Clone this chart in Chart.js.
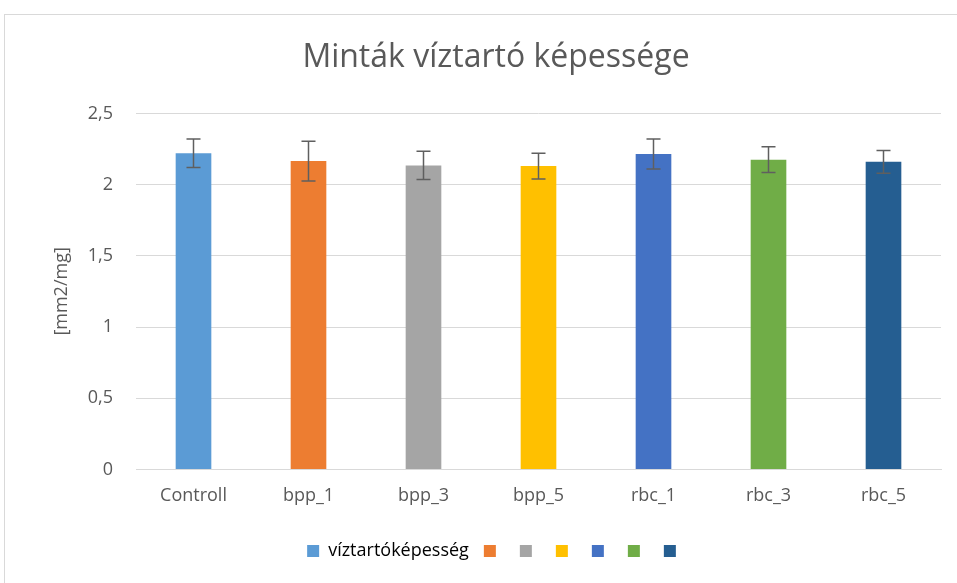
<!DOCTYPE html>
<html>
<head>
<meta charset="utf-8">
<script src="https://cdn.jsdelivr.net/npm/chart.js@4"></script>
<style>
  html, body { margin: 0; padding: 0; background: #fff; overflow: hidden; }
  #frame {
    position: absolute; left: 4px; top: 14px;
    width: 972px; height: 580px;
    border: 1px solid #d9d9d9;
    box-sizing: border-box;
  }
  #chart { display: block; }
</style>
</head>
<body>
<div id="frame"><canvas id="chart" width="970" height="578"></canvas></div>
<script>
// chart data
const labels = ["Controll", "bpp_1", "bpp_3", "bpp_5", "rbc_1", "rbc_3", "rbc_5"];
const values = [2.22, 2.165, 2.135, 2.13, 2.215, 2.175, 2.16];
const errors = [0.1, 0.14, 0.1, 0.09, 0.105, 0.09, 0.08];
const barColors = ["#5B9BD5", "#ED7D31", "#A5A5A5", "#FFC000", "#4472C4", "#70AD47", "#255E91"];
const seriesName = "víztartóképesség";

const textColor = "#595959";
const fontName = "'Open Sans', Lato, sans-serif";

// draw the error bars on top of the bars
const errorBars = {
	id: "errorBars",
	afterDatasetsDraw(chart) {
		const ctx = chart.ctx;
		const yScale = chart.scales.y;
		const meta = chart.getDatasetMeta(0);
		ctx.save();
		ctx.strokeStyle = "#5f5f5f";
		ctx.lineWidth = 1.5;
		meta.data.forEach((bar, i) => {
			const top = yScale.getPixelForValue(values[i] + errors[i]);
			const bottom = yScale.getPixelForValue(values[i] - errors[i]);
			const cap = 7;
			ctx.beginPath();
			ctx.moveTo(bar.x, top);
			ctx.lineTo(bar.x, bottom);
			ctx.moveTo(bar.x - cap, top);
			ctx.lineTo(bar.x + cap, top);
			ctx.moveTo(bar.x - cap, bottom);
			ctx.lineTo(bar.x + cap, bottom);
			ctx.stroke();
		});
		ctx.restore();
	},
};

new Chart(document.getElementById("chart"), {
	type: "bar",
	data: {
		labels: labels,
		datasets: [
			{
				label: seriesName,
				data: values,
				backgroundColor: barColors,
				borderWidth: 0,
				barPercentage: 0.62,
				categoryPercentage: 0.5,
			},
		],
	},
	options: {
		responsive: false,
		animation: false,
		layout: { padding: { left: 46, right: 34, top: 0, bottom: 23 } },
		plugins: {
			title: {
				display: true,
				text: "Minták víztartó képessége",
				color: textColor,
				font: { family: fontName, size: 32, weight: "normal" },
				padding: { top: 24, bottom: 36 },
			},
			legend: {
				position: "bottom",
				labels: {
					color: textColor,
					font: { family: fontName, size: 18 },
					boxWidth: 12,
					boxHeight: 12,
					padding: 15,
					generateLabels: () =>
						barColors.map((c, i) => ({
							text: i === 0 ? seriesName : "",
							fillStyle: c,
							strokeStyle: c,
							lineWidth: 0,
							datasetIndex: 0,
							index: i,
						})),
				},
			},
			tooltip: { enabled: false },
		},
		scales: {
			x: {
				grid: { display: false },
				border: { color: "#d9d9d9" },
				afterFit: (scale) => {
					scale.height += 12;
				},
				ticks: {
					color: textColor,
					font: { family: fontName, size: 18 },
					padding: 8,
				},
			},
			y: {
				min: 0,
				max: 2.5,
				afterFit: (scale) => {
					scale.width = 85;
				},
				grid: { color: "#d9d9d9", drawTicks: false },
				border: { display: false },
				ticks: {
					stepSize: 0.5,
					color: textColor,
					font: { family: fontName, size: 18 },
					padding: 23,
					callback: (v) => String(v).replace(".", ","),
				},
				title: {
					display: true,
					text: "[mm2/mg]",
					color: textColor,
					font: { family: fontName, size: 18 },
					padding: 0,
				},
			},
		},
	},
	plugins: [errorBars],
});
</script>
</body>
</html>
